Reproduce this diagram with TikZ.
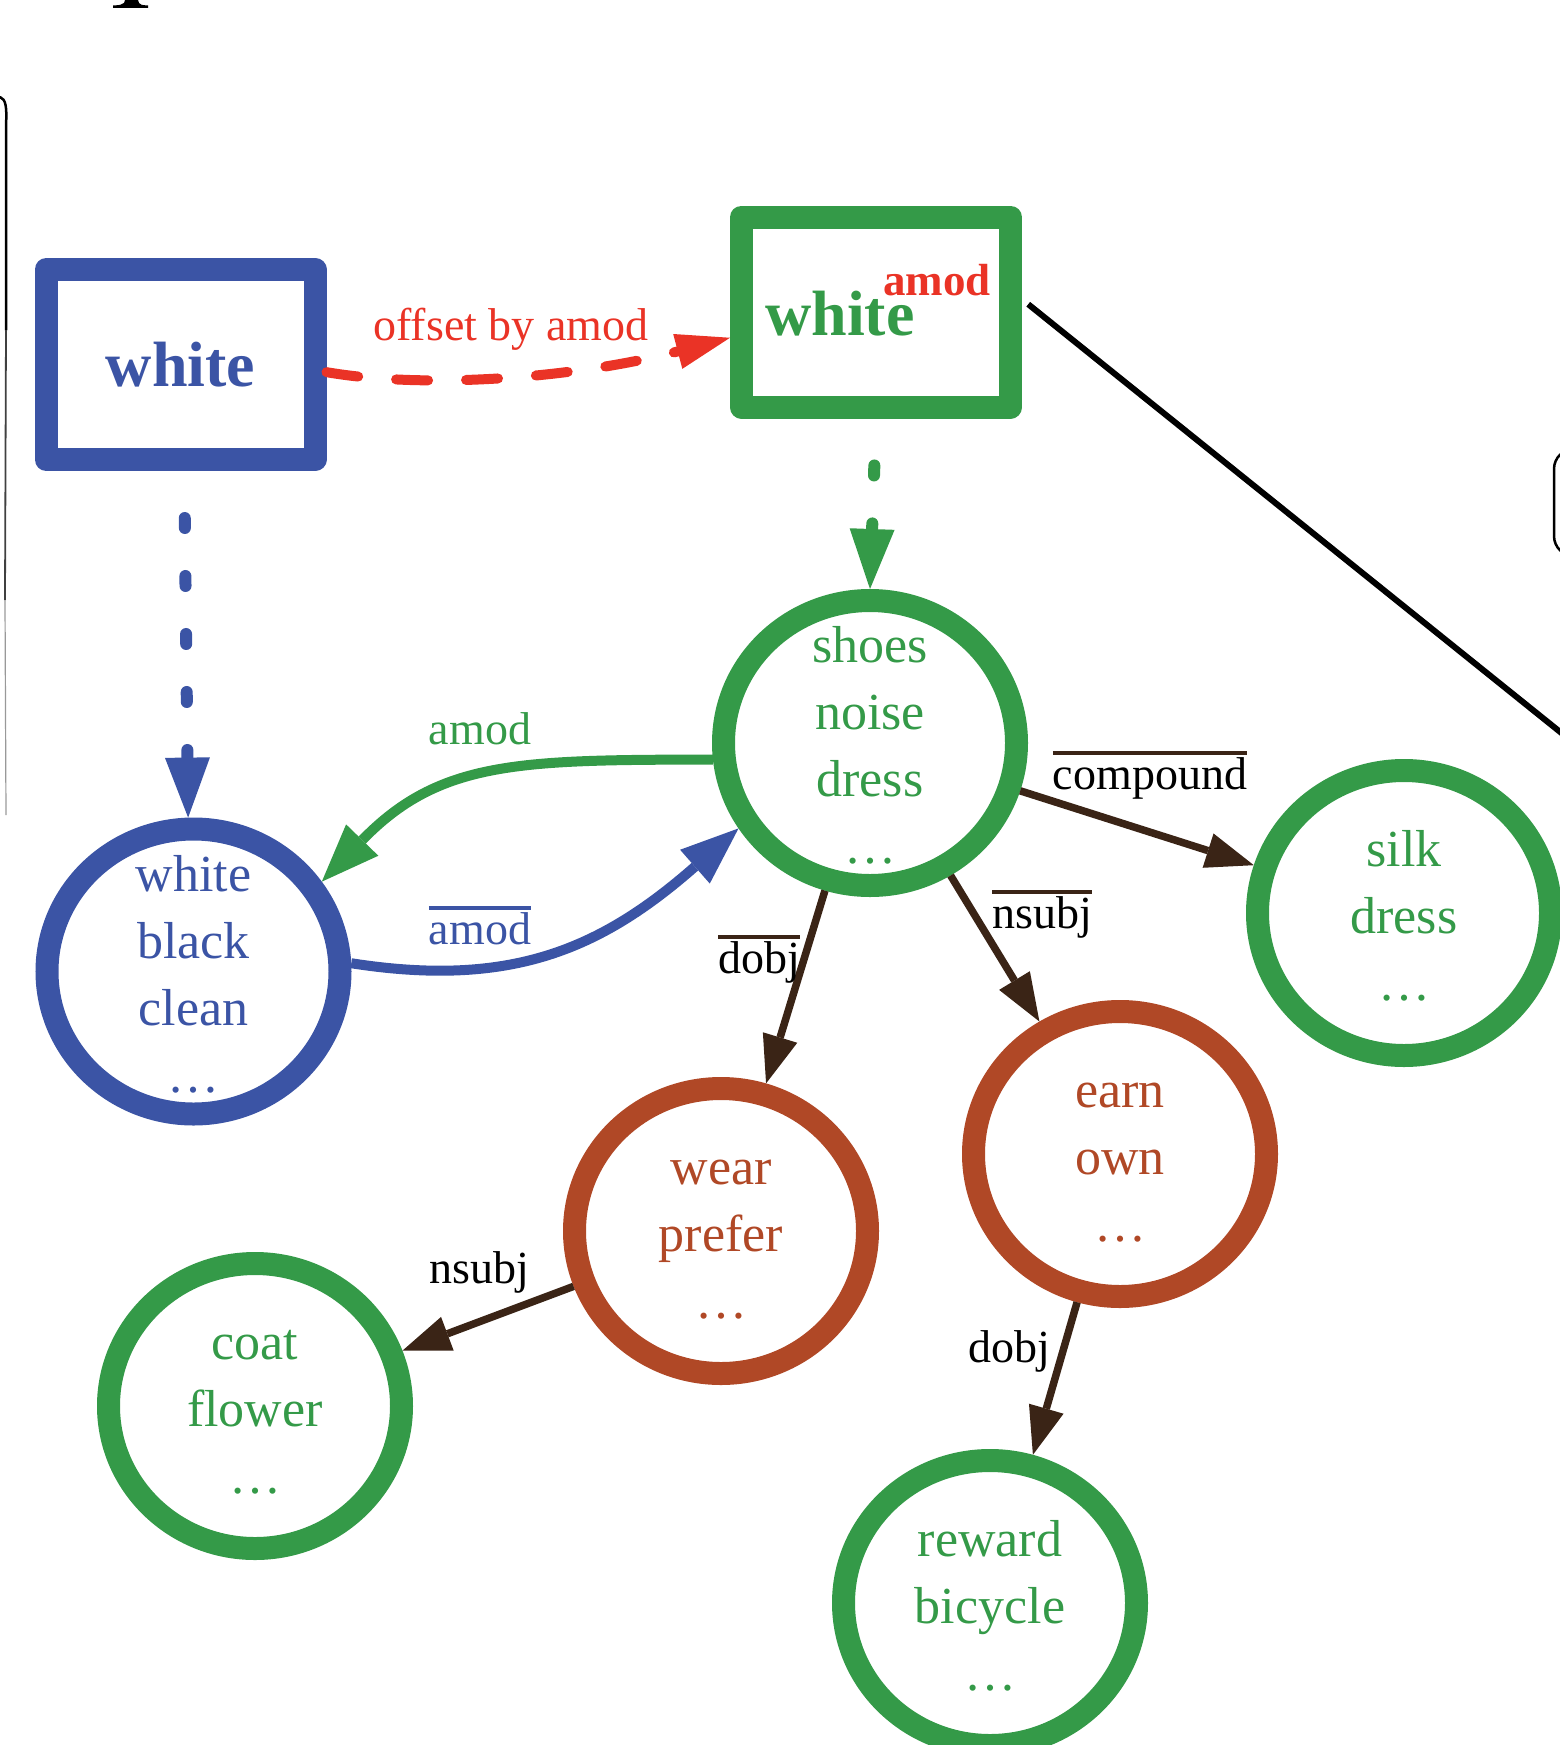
\documentclass[tikz,border=0pt]{standalone}
\usepackage{fontspec}
\setmainfont{Liberation Serif}
\usetikzlibrary{arrows.meta,shapes.geometric,calc}
\definecolor{cblue}{HTML}{3B54A5}
\definecolor{cgreen}{HTML}{349A48}
\definecolor{cbrown}{HTML}{B04826}
\definecolor{cred}{HTML}{EA3326}
\definecolor{cdark}{HTML}{3A2416}
\newcommand\ovl[2]{\setbox0\hbox{#2}\rlap{\color{#1}\rule[\dimexpr\ht0+2.5pt\relax]{\wd0}{3.5pt}}\box0}
\newcommand\lst{\rule[-5pt]{0pt}{50pt}}
\tikzset{
 bx/.style={draw=#1, rectangle, line width=23pt, line join=round, minimum width=269pt, minimum height=190pt, inner sep=0pt},
 circ/.style={draw=#1, ellipse, line width=23pt, minimum width=293pt, minimum height=285pt, inner sep=0pt},
 ctext/.style={text=#1, align=center, inner sep=0pt, font=\fontsize{52pt}{67pt}\selectfont},
 lbl/.style={anchor=base, inner sep=0pt, font=\fontsize{46pt}{55pt}\selectfont},
 bigword/.style={anchor=base west, inner sep=0pt, font=\bfseries\fontsize{64pt}{70pt}\selectfont},
 darr/.style={draw=cdark, line width=7.5pt, -{Triangle[length=48pt,width=36pt,line width=0pt]}},
 carr/.style={draw=#1, line width=10pt, -{Triangle[length=58pt,width=45pt,line width=0pt]}},
 dotarr/.style={draw=#1, line width=12pt, line cap=round, dash pattern=on 10pt off 48pt, shorten <=47pt, -{Triangle[length=60pt,width=45pt,line width=0pt]}},
 reddash/.style={draw=cred, line width=10pt, line cap=round, dash pattern=on 32pt off 38pt, -{Triangle[length=54pt,width=36pt,line width=0pt]}},
}
\begin{document}
\begin{tikzpicture}[x=1pt,y=-1pt]
\useasboundingbox (0,0) rectangle (1560,1745);
\clip (0,0) rectangle (1560,1745);
% cut-off pieces at the borders
\fill[black] (125,0) -- (138,0) -- (139,3) .. controls (141,5) .. (148,5.5) -- (148,8) -- (113,8) -- (113,5.5) .. controls (121,5) .. (124,3) -- cycle;
\draw[black, line width=2.5pt, line cap=round] (0,97) .. controls (6,99) and (7,108) .. (6,125) -- (6,330);
\draw[black!75, line width=1.8pt] (6,330) -- (5,600);
\draw[black!40, line width=1.2pt] (5,600) -- (6,815);
\draw[black, line width=2.5pt, rounded corners=20pt] (1600,449) -- (1554,449) -- (1554,556) -- (1600,556);

% boxes
\node[bx=cblue, text=cblue, font=\bfseries\fontsize{64pt}{70pt}\selectfont] (wbox) at (180.5,364.5) {white};
\node[bx=cgreen] (gbox) at (876,312) {};
\node[bigword, text=cgreen, text height=30pt] (gwhite) at (765,335) {white};
\node[anchor=base west, inner sep=0pt, text=cred, font=\bfseries\fontsize{45pt}{50pt}\selectfont] (gamod) at (883,295) {amod};

% circles
\node[circ=cblue] (wcirc) at (193.5,971.5) {};
\node[ctext=cblue] (wcircT) at (wcirc) {\lst white\\\lst black\\\lst clean\\\lst …};
\node[circ=cgreen] (shoes) at (870,743) {};
\node[ctext=cgreen] (shoesT) at (shoes) {\lst shoes\\\lst noise\\\lst dress\\\lst …};
\node[circ=cgreen] (silk) at (1404,913) {};
\node[ctext=cgreen] (silkT) at (silk) {\lst silk\\\lst dress\\\lst …};
\node[circ=cbrown] (wear) at (721,1231) {};
\node[ctext=cbrown] (wearT) at (wear) {\lst wear\\\lst prefer\\\lst …};
\node[circ=cbrown] (earn) at (1120,1154) {};
\node[ctext=cbrown] (earnT) at (earn) {\lst earn\\\lst own\\\lst …};
\node[circ=cgreen] (coat) at (255,1406) {};
\node[ctext=cgreen] (coatT) at (coat) {\lst coat\\\lst flower\\\lst …};
\node[circ=cgreen] (reward) at (990,1603) {};
\node[ctext=cgreen] (rewardT) at (reward) {\lst reward\\\lst bicycle\\\lst …};

% connectors
\draw[reddash] (wbox.-3) .. controls (430,390) and (580,377) .. (gbox.190);
\draw[dotarr=cblue] (wbox.-88) -- (wcirc.92);
\draw[dotarr=cgreen] (gbox.south) -- (shoes.north);
\draw[carr=cgreen] (shoes.186) .. controls (520,760) and (440,760) .. (wcirc.35);
\draw[carr=cblue] (wcirc.3) .. controls (510,988) and (600,950) .. (shoes.213);
\draw[darr] (shoes) -- (silk);
\draw[darr] (shoes) -- (earn);
\draw[darr] (shoes) -- (wear);
\draw[darr] (wear) -- (coat);
\draw[darr] (earn) -- (reward);
\coordinate (rend) at (1600,764);
\draw[black, line width=6pt, shorten <=8pt] (gbox.5) -- (rend);

% labels
\node[lbl, text=cred] (offl) at (511,340) {offset by amod};
\node[lbl, text=cgreen] (al1) at (480,744) {amod};
\node[lbl] (al2) at (480,944) {\ovl{cblue}{\color{cblue}amod}};
\node[lbl] (cl) at (1150,789) {\ovl{cdark}{compound}};
\node[lbl] (nl1) at (1042,928) {\ovl{cdark}{nsubj}};
\node[lbl] (dl1) at (759,973) {\ovl{cdark}{dobj}};
\node[lbl] (nl2) at (479,1283) {nsubj};
\node[lbl] (dl2) at (1009.5,1362.5) {dobj};
\end{tikzpicture}
\end{document}
